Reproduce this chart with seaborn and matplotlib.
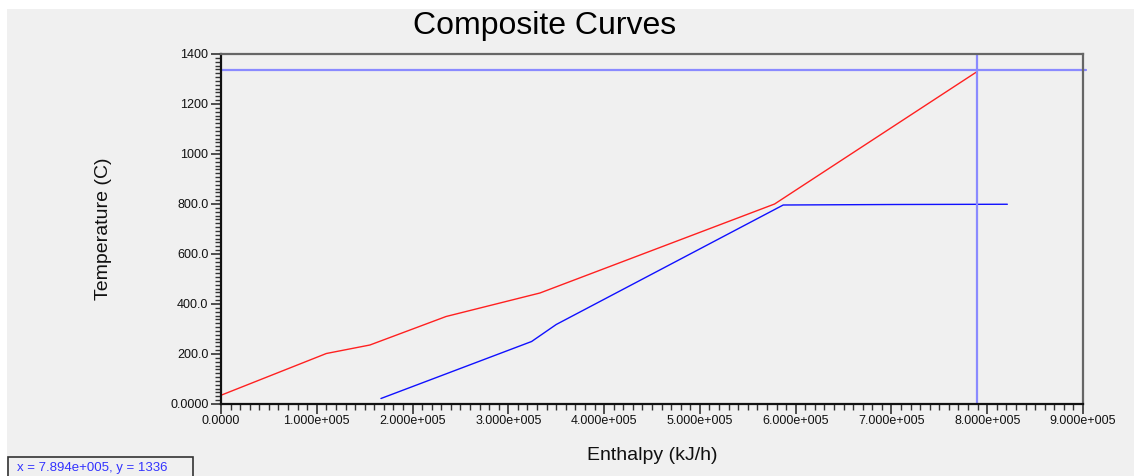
import matplotlib
matplotlib.use("Agg")
import matplotlib.pyplot as plt
from matplotlib.patches import Rectangle
from matplotlib.ticker import FixedLocator, MultipleLocator, AutoMinorLocator
import pandas as pd
import seaborn as sns

# Hot composite curve (enthalpy kJ/h, temperature C)
hot_h = [0.0, 1.10e5, 1.555e5, 2.35e5, 3.33e5, 5.78e5, 7.888e5]
hot_t = [35.0, 202.0, 236.0, 350.0, 444.0, 800.0, 1328.0]

# Cold composite curve
cold_h = [1.67e5, 3.243e5, 3.50e5, 5.87e5, 7.035e5, 8.21e5]
cold_t = [22.0, 250.0, 318.0, 796.0, 798.0, 799.0]

# Cursor read-out
cursor_x = 7.894e5
cursor_y = 1336

x_ticks = [0, 1e5, 2e5, 3e5, 4e5, 5e5, 6e5, 7e5, 8e5, 9e5]
x_tick_labels = ["0.0000", "1.000e+005", "2.000e+005", "3.000e+005", "4.000e+005",
                 "5.000e+005", "6.000e+005", "7.000e+005", "8.000e+005", "9.000e+005"]
y_ticks = [0, 200, 400, 600, 800, 1000, 1200, 1400]
y_tick_labels = ["0.0000", "200.0", "400.0", "600.0", "800.0", "1000", "1200", "1400"]

sns.set_style("white")
plt.rcParams["font.family"] = ["Liberation Sans", "DejaVu Sans"]

bg = "#f0f0f0"
fig = plt.figure(figsize=(11.34, 4.76), dpi=100, facecolor="white")
fig.patches.append(Rectangle((7 / 1134, 0), 1, 1 - 9 / 476, transform=fig.transFigure,
                             facecolor=bg, edgecolor="none", zorder=-10))

ax = fig.add_axes([221 / 1134, 1 - 404 / 476, (1083 - 221) / 1134, (404 - 54) / 476])
ax.set_facecolor(bg)

hot = pd.DataFrame({"h": hot_h, "t": hot_t})
cold = pd.DataFrame({"h": cold_h, "t": cold_t})
sns.lineplot(data=hot, x="h", y="t", sort=False, color="#ff2020", lw=1.0, ax=ax)
sns.lineplot(data=cold, x="h", y="t", sort=False, color="#1010ff", lw=1.0, ax=ax)

# Cursor cross-hair
ax.axhline(cursor_y, color="#8a8aff", lw=1.6, xmax=1.003, clip_on=False)
ax.axvline(cursor_x, color="#8a8aff", lw=1.6)

ax.set_xlim(0, 9e5)
ax.set_ylim(0, 1400)
ax.xaxis.set_major_locator(FixedLocator(x_ticks))
ax.set_xticklabels(x_tick_labels)
ax.yaxis.set_major_locator(FixedLocator(y_ticks))
ax.set_yticklabels(y_tick_labels)
ax.xaxis.set_minor_locator(MultipleLocator(1e4))
ax.yaxis.set_minor_locator(AutoMinorLocator(13))

ax.tick_params(axis="both", which="major", direction="out", length=7, width=1.2,
               color="#333333", labelsize=9, labelcolor="#111111", pad=2)
ax.tick_params(axis="x", which="major", pad=1)
ax.tick_params(axis="both", which="minor", direction="out", length=4, width=1.0,
               color="#333333")
ax.tick_params(bottom=True, left=True, which="both")

for side in ("left", "bottom"):
    ax.spines[side].set_color("#111111")
    ax.spines[side].set_linewidth(1.6)
for side in ("top", "right"):
    ax.spines[side].set_visible(True)
    ax.spines[side].set_color("#666666")
    ax.spines[side].set_linewidth(1.6)

ax.set_xlabel("")
ax.set_ylabel("")
fig.text(545 / 1134, 1 - 34 / 476, "Composite Curves", ha="center", va="baseline",
         fontsize=23, color="black")
fig.text(103 / 1134, 1 - 229 / 476, "Temperature (C)", ha="center", va="center",
         rotation=90, fontsize=14, color="#111111")
fig.text(652 / 1134, 1 - 455 / 476, "Enthalpy (kJ/h)", ha="center", va="center",
         fontsize=14, color="#111111")

# Read-out box
fig.patches.append(Rectangle((8 / 1134, -0.02), (193 - 8) / 1134, (476 - 457) / 476 + 0.02,
                             transform=fig.transFigure, facecolor="none",
                             edgecolor="#333333", lw=1.2))
fig.text(17 / 1134, 1 - 468 / 476, f"x = {cursor_x:.3e}".replace("e+05", "e+005") + f", y = {cursor_y}",
         ha="left", va="center", fontsize=9.5, color="#3333ff")

fig.savefig("out.png", dpi=100, facecolor="white")
